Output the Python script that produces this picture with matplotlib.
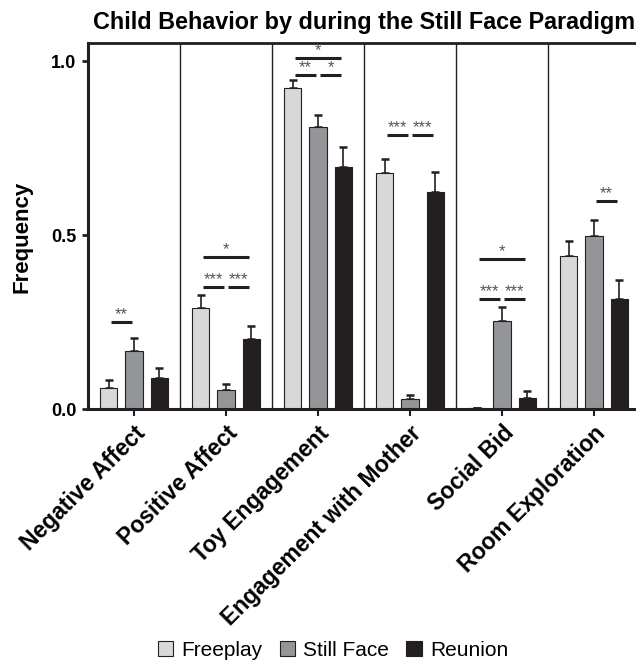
import numpy as np
import matplotlib
matplotlib.use('Agg')
import matplotlib.pyplot as plt
from matplotlib.patches import Patch

plt.rcParams['font.family'] = ['Liberation Sans', 'DejaVu Sans']

categories = ['Negative Affect', 'Positive Affect', 'Toy Engagement',
              'Engagement with Mother', 'Social Bid', 'Room Exploration']
conditions = ['Freeplay', 'Still Face', 'Reunion']

freeplay = [0.059, 0.289, 0.922, 0.679, 0.003, 0.440]
still_face = [0.167, 0.055, 0.810, 0.028, 0.252, 0.497]
reunion = [0.089, 0.200, 0.695, 0.624, 0.033, 0.316]

freeplay_err = [0.024, 0.039, 0.023, 0.040, 0.0, 0.044]
still_face_err = [0.036, 0.018, 0.035, 0.012, 0.041, 0.046]
reunion_err = [0.030, 0.040, 0.058, 0.056, 0.020, 0.056]

# significance: (category, first bar, second bar, height, stars)
sig_tests = [
    (0, 0, 1, 0.250, '**'),
    (1, 0, 1, 0.350, '***'), (1, 1, 2, 0.350, '***'), (1, 0, 2, 0.437, '*'),
    (2, 0, 1, 0.959, '**'), (2, 1, 2, 0.959, '*'), (2, 0, 2, 1.010, '*'),
    (3, 0, 1, 0.787, '***'), (3, 1, 2, 0.787, '***'),
    (4, 0, 1, 0.315, '***'), (4, 1, 2, 0.315, '***'), (4, 0, 2, 0.432, '*'),
    (5, 1, 2, 0.597, '**'),
]

colors = ['#d7d8da', '#939598', '#231f20']
dark = '#231f20'

fig = plt.figure(figsize=(6.36, 6.64), dpi=100)
ax = fig.add_axes([88/636, 1-409/664, 552/636, 366/664])

x = np.arange(len(categories))
offs = [-0.272, 0.0, 0.272]
width = 0.185
series = [freeplay, still_face, reunion]
errs = [freeplay_err, still_face_err, reunion_err]

for i in range(3):
    ax.bar(x + offs[i], series[i], width, color=colors[i], edgecolor=dark,
           linewidth=0.8, zorder=2)
    ax.errorbar(x + offs[i], series[i],
                yerr=[np.zeros(len(x)), errs[i]], fmt='none', ecolor=dark,
                elinewidth=1.2, capsize=2.6, capthick=1.8, zorder=1)

for k in range(len(categories) - 1):
    ax.axvline(k + 0.5, color=dark, lw=1.0, zorder=3)

for cat, a, b, h, stars in sig_tests:
    x1 = cat + offs[a] + 0.02
    x2 = cat + offs[b] - 0.02
    ax.plot([x1, x2], [h, h], color=dark, lw=2.2, solid_capstyle='butt', zorder=4)
    ax.text((x1 + x2) / 2, h + 0.021, stars, ha='center', va='center',
            fontsize=12, color='#555555', zorder=4)

ax.set_xlim(-0.5, 5.5)
ax.set_ylim(0, 1.052)
ax.set_yticks([0.0, 0.5, 1.0])
ax.set_yticklabels(['0.0', '0.5', '1.0'], fontsize=13, fontweight='bold')
ax.set_xticks(x)
ax.set_xticklabels(categories, rotation=45, ha='right', rotation_mode='anchor',
                   fontsize=16.5, fontweight='bold')
ax.tick_params(axis='y', length=4.5, width=2.0, pad=4, color=dark)
ax.tick_params(axis='x', length=5, width=1.5, pad=4, color=dark)

for s in ['left', 'bottom']:
    ax.spines[s].set_linewidth(2.2)
    ax.spines[s].set_color(dark)
ax.spines['top'].set_linewidth(2.0)
ax.spines['top'].set_color(dark)
ax.spines['right'].set_visible(False)

ax.set_ylabel('Frequency', fontsize=16, fontweight='bold')
ax.yaxis.set_label_coords(-0.10, 0.47)
ax.set_title('Child Behavior by during the Still Face Paradigm',
             fontsize=16.8, fontweight='bold', pad=10)

handles = [Patch(facecolor=colors[i], edgecolor=dark, linewidth=0.8)
           for i in range(3)]
fig.legend(handles, conditions, loc='center', bbox_to_anchor=(333/636, 1-650/664),
           ncol=3, frameon=False, handlelength=0.75, handleheight=0.75,
           handletextpad=0.4, columnspacing=0.8, prop={'size': 15})

fig.savefig('out.png', dpi=100)
